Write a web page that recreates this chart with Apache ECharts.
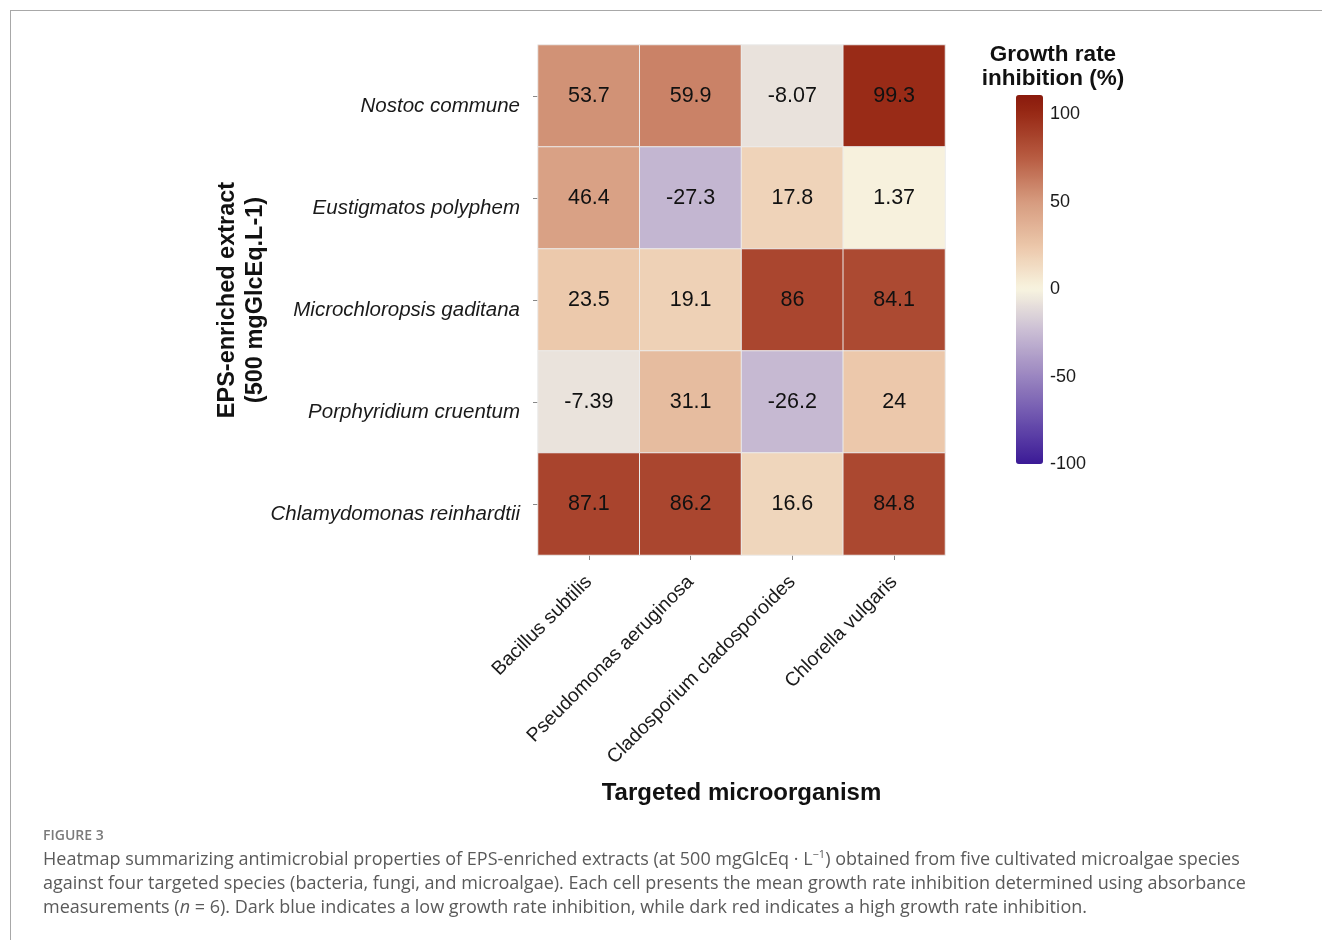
<!DOCTYPE html>
<html>
<head>
<meta charset="utf-8">
<script src="https://cdn.jsdelivr.net/npm/echarts@6/dist/echarts.min.js"></script>
<style>
  html, body { margin: 0; padding: 0; background: #fff; }
  #chart { width: 1322px; height: 940px; position: absolute; left: 0; top: 0; }
  .frame-top { position: absolute; left: 10px; top: 10px; width: 1312px; height: 0; border-top: 1.5px solid #a8a8a8; }
  .frame-left { position: absolute; left: 10px; top: 10px; width: 0; height: 930px; border-left: 1.5px solid #a8a8a8; }
  .fig { position: absolute; left: 43px; top: 825px; font-family: "Open Sans", sans-serif; font-size: 14px; color: #7a7a7a; font-weight: 600; }
  .cap { position: absolute; left: 43px; top: 842px; font-family: "Open Sans", sans-serif; font-size: 18px; line-height: 24px; color: #5a5a5a; white-space: nowrap; }
</style>
</head>
<body>
<div id="chart"></div>
<div class="frame-top"></div>
<div class="frame-left"></div>
<div class="fig">FIGURE 3</div>
<div class="cap">Heatmap summarizing antimicrobial properties of EPS-enriched extracts (at 500 mgGlcEq · L<sup style="font-size:11px">−1</sup>) obtained from five cultivated microalgae species<br>against four targeted species (bacteria, fungi, and microalgae). Each cell presents the mean growth rate inhibition determined using absorbance<br>measurements (<i>n</i> = 6). Dark blue indicates a low growth rate inhibition, while dark red indicates a high growth rate inhibition.</div>
<script>
// targeted species (columns) and extracts (rows, top to bottom)
const targets = ['Bacillus subtilis', 'Pseudomonas aeruginosa', 'Cladosporium cladosporoides', 'Chlorella vulgaris']
const extracts = ['Nostoc commune', 'Eustigmatos polyphem', 'Microchloropsis gaditana', 'Porphyridium cruentum', 'Chlamydomonas reinhardtii']

// mean growth rate inhibition (%), one array per extract
const nostoc = [53.7, 59.9, -8.07, 99.3]
const eustigmatos = [46.4, -27.3, 17.8, 1.37]
const microchloropsis = [23.5, 19.1, 86, 84.1]
const porphyridium = [-7.39, 31.1, -26.2, 24]
const chlamydomonas = [87.1, 86.2, 16.6, 84.8]
const rows = [nostoc, eustigmatos, microchloropsis, porphyridium, chlamydomonas]

// colour bar
const legendTicks = [-100, -50, 0, 50, 100]
const scaleMin = -100
const scaleMax = 111

// anchors of the diverging palette (value, colour)
const anchors = [
  [-100, '#3b1a96'],
  [-75, '#6a50ad'],
  [-50, '#9a85c0'],
  [-25, '#c8bbd3'],
  [0, '#f8f4e0'],
  [25, '#ebc6a9'],
  [50, '#d69b7f'],
  [75, '#b85c42'],
  [100, '#982a16'],
  [111, '#8a1a0c']
]

function hex2rgb(h) {
  return [1, 3, 5].map(i => parseInt(h.slice(i, i + 2), 16))
}
function colorAt(v) {
  for (let i = 0; i < anchors.length - 1; i++) {
    const [v0, c0] = anchors[i]
    const [v1, c1] = anchors[i + 1]
    if (v >= v0 && v <= v1) {
      const t = (v - v0) / (v1 - v0)
      const a = hex2rgb(c0), b = hex2rgb(c1)
      const c = a.map((x, k) => Math.round(x + (b[k] - x) * t))
      return 'rgb(' + c.join(',') + ')'
    }
  }
  return anchors[anchors.length - 1][1]
}
const palette = []
for (let v = scaleMin; v <= scaleMax; v++) palette.push(colorAt(v))

const cells = []
rows.forEach((r, yi) => {
  r.forEach((val, xi) => cells.push([xi, yi, val]))
})

const chart = echarts.init(document.getElementById('chart'))

const fontSans = '"Liberation Sans", Arial, sans-serif'

chart.setOption({
  animation: false,
  grid: [
    { left: 538, top: 45, width: 407, height: 510 },
    { left: 1016, top: 95, width: 27, height: 369 }
  ],
  xAxis: [
    {
      type: 'category',
      data: targets,
      gridIndex: 0,
      position: 'bottom',
      axisLine: { show: false },
      axisTick: { show: true, alignWithLabel: true, length: 5, lineStyle: { color: '#888' } },
      axisLabel: { rotate: 45, margin: 24, fontSize: 19.5, color: '#1a1a1a', fontFamily: fontSans },
      splitLine: { show: false },
      name: 'Targeted microorganism',
      nameLocation: 'middle',
      nameGap: 226,
      nameTextStyle: { fontSize: 24, fontWeight: 'bold', color: '#111', fontFamily: fontSans }
    },
    { type: 'value', gridIndex: 1, show: false }
  ],
  yAxis: [
    {
      type: 'category',
      data: extracts,
      inverse: true,
      gridIndex: 0,
      axisLine: { show: false },
      axisTick: { show: true, alignWithLabel: true, length: 5, lineStyle: { color: '#888' } },
      axisLabel: { margin: 18, verticalAlign: 'top', fontSize: 20.5, fontStyle: 'italic', color: '#1a1a1a', fontFamily: fontSans },
      name: 'EPS-enriched extract\n(500 mgGlcEq.L-1)',
      nameLocation: 'middle',
      nameRotate: 90,
      nameGap: 268,
      nameMoveOverlap: false,
      nameTextStyle: { fontSize: 23.5, fontWeight: 'bold', color: '#111', lineHeight: 28, fontFamily: fontSans }
    },
    {
      type: 'value',
      gridIndex: 1,
      position: 'right',
      min: scaleMin,
      max: scaleMax,
      interval: 50,
      axisLine: { show: false },
      axisTick: { show: true, inside: true, length: 4, lineStyle: { color: '#fff', width: 1 } },
      axisLabel: {
        margin: 7,
        fontSize: 18,
        color: '#1a1a1a',
        fontFamily: fontSans,
        formatter: v => legendTicks.includes(v) ? String(v) : ''
      },
      splitLine: { show: false },
      name: 'Growth rate\ninhibition (%)',
      nameLocation: 'end',
      nameGap: 4,
      nameTextStyle: { fontSize: 22.5, fontWeight: 'bold', color: '#111', lineHeight: 24, align: 'center', padding: [0, 0, 0, 74], fontFamily: fontSans }
    },
    {
      type: 'value',
      gridIndex: 1,
      position: 'left',
      min: scaleMin,
      max: scaleMax,
      interval: 50,
      axisLine: { show: false },
      axisTick: { show: true, inside: true, length: 4, lineStyle: { color: '#fff', width: 1 } },
      axisLabel: { show: false },
      splitLine: { show: false }
    }
  ],
  visualMap: {
    type: 'continuous',
    min: scaleMin,
    max: scaleMax,
    seriesIndex: 0,
    calculable: false,
    orient: 'vertical',
    left: 1016,
    top: 95,
    padding: 0,
    itemWidth: 27,
    itemHeight: 369,
    text: null,
    showLabel: false,
    inRange: { color: palette }
  },
  series: [
    {
      type: 'heatmap',
      xAxisIndex: 0,
      yAxisIndex: 0,
      data: cells,
      itemStyle: { borderColor: '#ececec', borderWidth: 1 },
      label: {
        show: true,
        fontSize: 21.5,
        color: '#111',
        fontFamily: fontSans,
        formatter: p => String(p.value[2])
      },
      emphasis: { disabled: true }
    }
  ]
})
</script>
</body>
</html>
